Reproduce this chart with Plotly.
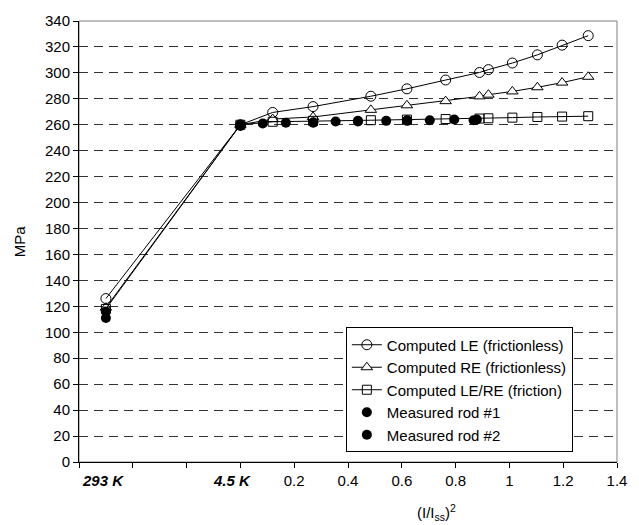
import plotly.graph_objects as go

# x positions: -0.5 = 293 K, 0 = 4.5 K, then (I/Iss)^2
x_comp = [-0.5, 0, 0.12, 0.27, 0.485, 0.619, 0.763, 0.889, 0.922, 1.011, 1.104, 1.196, 1.293]
le_frictionless = [126, 260, 269.5, 274, 282, 287.7, 294.5, 300.3, 302.5, 307.6, 313.9, 321.4, 328.7]
re_frictionless = [119, 260, 264.4, 266, 271.5, 275, 278.2, 281.9, 283.2, 285.7, 288.9, 292.5, 297]
lere_friction = [118, 260, 262.3, 263, 263.5, 264, 264.4, 264.8, 265, 265.5, 266, 266.3, 266.6]

x_rod1 = [-0.5, 0, 0.083, 0.169, 0.271, 0.354, 0.437, 0.542, 0.62, 0.704, 0.795, 0.879]
y_rod1 = [116, 260, 261, 261.5, 262, 262.5, 263, 263, 263.5, 263.5, 264, 264]
x_rod2 = [-0.5, 0, 0.271, 0.437, 0.62, 0.867]
y_rod2 = [111, 259, 261.5, 262.5, 263, 263.5]

x_tickvals = [-0.6, -0.4, -0.2, 0, 0.2, 0.4, 0.6, 0.8, 1.0, 1.2, 1.4]
x_ticktext = ["", "", "", "", "0.2", "0.4", "0.6", "0.8", "1", "1.2", "1.4"]
temp_labels = ["293 K", "4.5 K"]
temp_label_x = [-0.51, -0.03]

FONT = "Liberation Sans, Arial, sans-serif"
FS = 15

fig = go.Figure()
common_line = dict(color="black", width=1)

fig.add_trace(go.Scatter(x=x_comp, y=le_frictionless, mode="lines+markers",
    name="Computed LE (frictionless)", line=common_line,
    marker=dict(symbol="circle-open", size=10, color="black", line=dict(width=1))))
fig.add_trace(go.Scatter(x=x_comp, y=re_frictionless, mode="lines+markers",
    name="Computed RE (frictionless)", line=common_line,
    marker=dict(symbol="triangle-up", size=10, color="white", line=dict(color="black", width=1))))
fig.add_trace(go.Scatter(x=x_comp, y=lere_friction, mode="lines+markers",
    name="Computed LE/RE (friction)", line=common_line,
    marker=dict(symbol="square-open", size=9, color="black", line=dict(width=1))))
fig.add_trace(go.Scatter(x=x_rod1, y=y_rod1, mode="markers", name="Measured rod #1",
    marker=dict(symbol="circle", size=10, color="black")))
fig.add_trace(go.Scatter(x=x_rod2, y=y_rod2, mode="markers", name="Measured rod #2",
    marker=dict(symbol="circle", size=10, color="black")))

for t, xv in zip(temp_labels, temp_label_x):
    fig.add_annotation(x=xv, y=0, xref="x", yref="paper", yshift=-8, yanchor="top",
                       text="<b><i>" + t + "</i></b>", showarrow=False,
                       font=dict(family=FONT, size=FS, color="black"))

fig.add_annotation(x=0.665, y=-0.1136, xref="paper", yref="paper",
                   yanchor="middle", xanchor="center",
                   text="(I/I<sub>ss</sub>)<sup>2</sup>", showarrow=False,
                   font=dict(family=FONT, size=FS, color="black"))

fig.add_annotation(x=-0.11, y=0.5, xref="paper", yref="paper",
                   xanchor="center", yanchor="middle", textangle=-90,
                   text="MPa", showarrow=False,
                   font=dict(family=FONT, size=FS, color="black"))

fig.add_shape(type="rect", xref="paper", yref="paper", x0=0, y0=0, x1=1, y1=1,
              line=dict(color="#808080", width=1), layer="below")

fig.update_layout(
    width=639, height=525,
    margin=dict(l=79, r=22, t=13, b=63),
    paper_bgcolor="white", plot_bgcolor="white",
    font=dict(family=FONT, size=FS, color="black"),
    showlegend=True,
    legend=dict(x=0.496, y=0.305, xanchor="left", yanchor="top",
                bgcolor="white", bordercolor="black", borderwidth=1,
                font=dict(family=FONT, size=FS, color="black"),
                itemwidth=30, tracegroupgap=0),
    xaxis=dict(range=[-0.6, 1.4], tickvals=x_tickvals, ticktext=x_ticktext,
               showgrid=False, zeroline=False, showline=True, linecolor="black",
               linewidth=1, ticks="outside", ticklen=5, tickcolor="black",
               tickfont=dict(size=FS)),
    yaxis=dict(range=[0, 340], dtick=20, tick0=0, showgrid=True,
               gridcolor="#333333", gridwidth=1, griddash="9px,6px",
               zeroline=False, showline=True, linecolor="black", linewidth=1,
               ticks="outside", ticklen=5, tickcolor="black",
               tickfont=dict(size=FS)),
)

fig.write_html("out.html", config={"displayModeBar": False},
               post_script="document.body.style.margin='0';document.body.style.overflow='hidden';")
